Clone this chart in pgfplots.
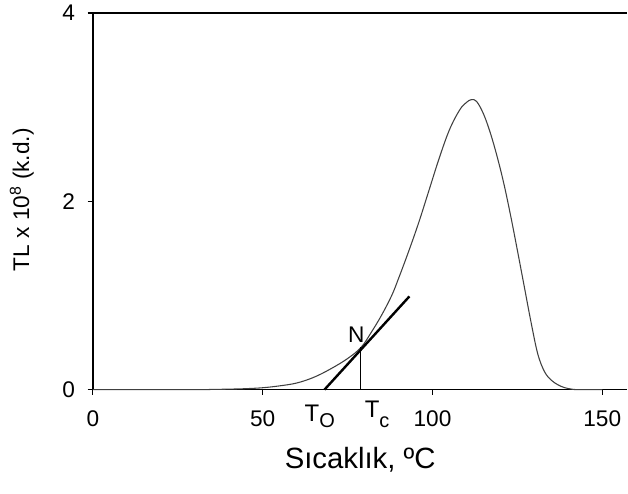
\documentclass[border=0pt]{standalone}
\usepackage{fontspec}
\setmainfont{Liberation Sans}
\usepackage{pgfplots}
\pgfplotsset{compat=1.18}
\begin{document}
\begin{tikzpicture}
\begin{axis}[
  scale only axis,
  width=401.25pt, height=282.75pt,
  xmin=0, xmax=157.4, ymin=0, ymax=4,
  axis x line=box, axis y line=left,
  y axis line style={-},
  axis line style={line width=0.9pt},
  xtick={0,50,100,150}, ytick={0,2,4},
  xtick pos=left, ytick pos=left,
  tick align=outside,
  major tick length=4pt,
  tick style={line width=0.8pt, black},
  /pgf/number format/assume math mode=true,
  tick label style={font=\fontsize{17}{19}\selectfont},
  xticklabel style={yshift=-8pt},
  yticklabel style={xshift=-6pt},
  xlabel={Sıcaklık, ºC},
  ylabel={TL x 10\textsuperscript{8} (k.d.)},
  xlabel style={font=\fontsize{22}{26}\selectfont, at={(axis description cs:0.5,-0.186)}, anchor=center},
  ylabel style={font=\fontsize{17}{20}\selectfont, at={(axis description cs:-0.133,0.504)}, anchor=center},
  clip=false,
]
\addplot[black!75, line width=0.8pt, smooth, tension=0.6] coordinates {
(0,0) (30,0) (35,0.002) (40,0.005) (45,0.01) (50,0.02) (55,0.04) (60,0.07) (65,0.13) (70,0.22) (75,0.33) (79,0.45) (82,0.61) (85,0.79) (88,1.0) (90,1.18) (93,1.47) (96,1.78) (99,2.12) (102,2.46) (105,2.76) (108,2.97) (110,3.05) (111.5,3.08) (113,3.06) (115,2.93) (117,2.73) (119,2.48) (121,2.19) (123,1.85) (125,1.48) (127,1.1) (129,0.72) (131,0.38) (133,0.19) (135,0.1) (137,0.05) (139,0.02) (141,0.005) (143,0) (150,0)
};
\addplot[black, line width=1.8pt] coordinates {(68.2,0) (93.2,0.99)};
\addplot[black, line width=0.9pt] coordinates {(78.8,0) (78.8,0.45)};
\node[font=\fontsize{17}{19}\selectfont] at (axis cs:77.6,0.585) {N};
\node[anchor=base west, inner sep=0pt] at (axis cs:62.3,-0.34) {\fontsize{18}{20}\selectfont T\fontsize{15}{17}\selectfont\raisebox{-4.5pt}{O}};
\node[anchor=base west, inner sep=0pt] at (axis cs:80.0,-0.30) {\fontsize{18}{20}\selectfont T\fontsize{15}{17}\selectfont\raisebox{-7.5pt}{c}};
\end{axis}
\path ([xshift=-69.75pt,yshift=-78pt]current axis.south west) rectangle ([yshift=9.75pt]current axis.north east);
\end{tikzpicture}
\end{document}
